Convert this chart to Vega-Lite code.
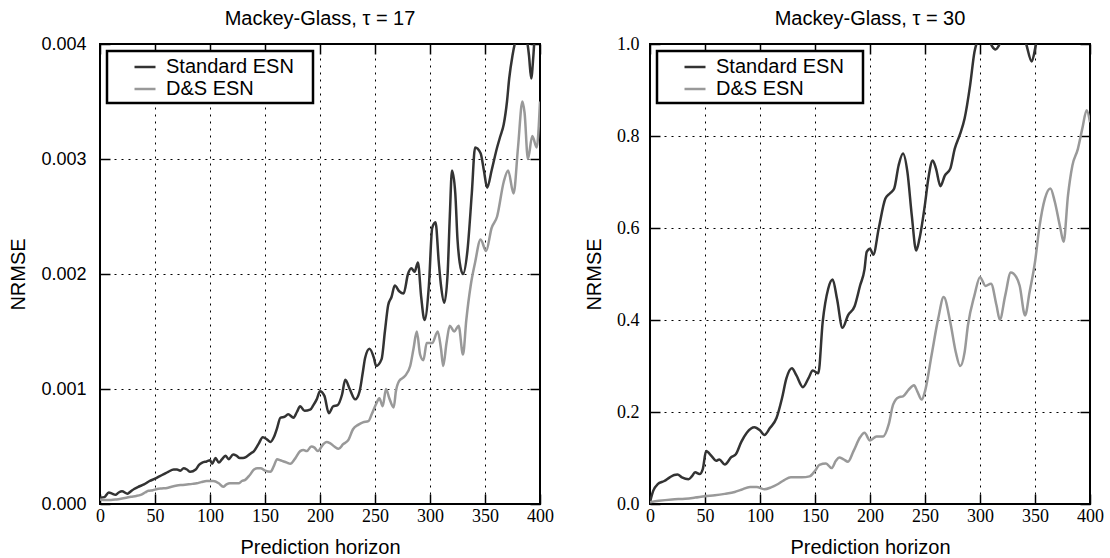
{
  "$schema": "https://vega.github.io/schema/vega-lite/v6.json",
  "background": "white",
  "padding": {"left": 7, "top": 8, "right": 0, "bottom": 0},
  "datasets": {
    "tau17": [
      {"s": "Standard ESN", "x": 0, "y": 0.000055},
      {"s": "Standard ESN", "x": 4, "y": 0.00006},
      {"s": "Standard ESN", "x": 8, "y": 0.0001},
      {"s": "Standard ESN", "x": 11, "y": 0.00009},
      {"s": "Standard ESN", "x": 14, "y": 0.00008},
      {"s": "Standard ESN", "x": 17, "y": 0.0001},
      {"s": "Standard ESN", "x": 20, "y": 0.00011},
      {"s": "Standard ESN", "x": 25, "y": 0.00009},
      {"s": "Standard ESN", "x": 28, "y": 0.00011},
      {"s": "Standard ESN", "x": 31, "y": 0.00013},
      {"s": "Standard ESN", "x": 35, "y": 0.00015},
      {"s": "Standard ESN", "x": 40, "y": 0.00017},
      {"s": "Standard ESN", "x": 45, "y": 0.0002},
      {"s": "Standard ESN", "x": 50, "y": 0.00022},
      {"s": "Standard ESN", "x": 54, "y": 0.00024},
      {"s": "Standard ESN", "x": 58, "y": 0.00026},
      {"s": "Standard ESN", "x": 62, "y": 0.00028},
      {"s": "Standard ESN", "x": 67, "y": 0.0003},
      {"s": "Standard ESN", "x": 70, "y": 0.0003},
      {"s": "Standard ESN", "x": 73, "y": 0.00029},
      {"s": "Standard ESN", "x": 76, "y": 0.00031},
      {"s": "Standard ESN", "x": 79, "y": 0.0003},
      {"s": "Standard ESN", "x": 82, "y": 0.00028},
      {"s": "Standard ESN", "x": 87, "y": 0.0003},
      {"s": "Standard ESN", "x": 90, "y": 0.00034},
      {"s": "Standard ESN", "x": 93, "y": 0.00036},
      {"s": "Standard ESN", "x": 97, "y": 0.00037},
      {"s": "Standard ESN", "x": 100, "y": 0.00038},
      {"s": "Standard ESN", "x": 102, "y": 0.00035},
      {"s": "Standard ESN", "x": 105, "y": 0.0004},
      {"s": "Standard ESN", "x": 108, "y": 0.00036},
      {"s": "Standard ESN", "x": 111, "y": 0.00039},
      {"s": "Standard ESN", "x": 114, "y": 0.00042},
      {"s": "Standard ESN", "x": 117, "y": 0.00039},
      {"s": "Standard ESN", "x": 121, "y": 0.00043},
      {"s": "Standard ESN", "x": 124, "y": 0.00042},
      {"s": "Standard ESN", "x": 127, "y": 0.0004},
      {"s": "Standard ESN", "x": 130, "y": 0.0004},
      {"s": "Standard ESN", "x": 133, "y": 0.00041},
      {"s": "Standard ESN", "x": 137, "y": 0.00044},
      {"s": "Standard ESN", "x": 140, "y": 0.00046},
      {"s": "Standard ESN", "x": 144, "y": 0.00052},
      {"s": "Standard ESN", "x": 148, "y": 0.00058},
      {"s": "Standard ESN", "x": 152, "y": 0.00056},
      {"s": "Standard ESN", "x": 155, "y": 0.00054},
      {"s": "Standard ESN", "x": 158, "y": 0.00058},
      {"s": "Standard ESN", "x": 161, "y": 0.00066},
      {"s": "Standard ESN", "x": 164, "y": 0.00075},
      {"s": "Standard ESN", "x": 168, "y": 0.00076},
      {"s": "Standard ESN", "x": 171, "y": 0.00078},
      {"s": "Standard ESN", "x": 176, "y": 0.00075},
      {"s": "Standard ESN", "x": 179, "y": 0.0008},
      {"s": "Standard ESN", "x": 182, "y": 0.00085},
      {"s": "Standard ESN", "x": 186, "y": 0.00081},
      {"s": "Standard ESN", "x": 191, "y": 0.00082},
      {"s": "Standard ESN", "x": 194, "y": 0.00086},
      {"s": "Standard ESN", "x": 197, "y": 0.00091},
      {"s": "Standard ESN", "x": 200, "y": 0.00098},
      {"s": "Standard ESN", "x": 204, "y": 0.00094},
      {"s": "Standard ESN", "x": 208, "y": 0.00079},
      {"s": "Standard ESN", "x": 212, "y": 0.00085},
      {"s": "Standard ESN", "x": 216, "y": 0.00086},
      {"s": "Standard ESN", "x": 220, "y": 0.00095},
      {"s": "Standard ESN", "x": 223, "y": 0.00108},
      {"s": "Standard ESN", "x": 227, "y": 0.001},
      {"s": "Standard ESN", "x": 232, "y": 0.00091},
      {"s": "Standard ESN", "x": 236, "y": 0.00098},
      {"s": "Standard ESN", "x": 239, "y": 0.00115},
      {"s": "Standard ESN", "x": 241, "y": 0.00127},
      {"s": "Standard ESN", "x": 245, "y": 0.00135},
      {"s": "Standard ESN", "x": 249, "y": 0.00127},
      {"s": "Standard ESN", "x": 251, "y": 0.0012},
      {"s": "Standard ESN", "x": 256, "y": 0.00126},
      {"s": "Standard ESN", "x": 259, "y": 0.0015},
      {"s": "Standard ESN", "x": 262, "y": 0.00173},
      {"s": "Standard ESN", "x": 265, "y": 0.0018},
      {"s": "Standard ESN", "x": 268, "y": 0.0019},
      {"s": "Standard ESN", "x": 272, "y": 0.00185},
      {"s": "Standard ESN", "x": 276, "y": 0.00183},
      {"s": "Standard ESN", "x": 280, "y": 0.002},
      {"s": "Standard ESN", "x": 283, "y": 0.00205},
      {"s": "Standard ESN", "x": 286, "y": 0.00202},
      {"s": "Standard ESN", "x": 289, "y": 0.0021},
      {"s": "Standard ESN", "x": 292, "y": 0.0018},
      {"s": "Standard ESN", "x": 295, "y": 0.0016},
      {"s": "Standard ESN", "x": 299, "y": 0.0019},
      {"s": "Standard ESN", "x": 302, "y": 0.0024},
      {"s": "Standard ESN", "x": 305, "y": 0.00245},
      {"s": "Standard ESN", "x": 308, "y": 0.0021},
      {"s": "Standard ESN", "x": 310, "y": 0.0019},
      {"s": "Standard ESN", "x": 313, "y": 0.00175},
      {"s": "Standard ESN", "x": 316, "y": 0.002},
      {"s": "Standard ESN", "x": 318, "y": 0.0025},
      {"s": "Standard ESN", "x": 320, "y": 0.0029},
      {"s": "Standard ESN", "x": 323, "y": 0.0027},
      {"s": "Standard ESN", "x": 325, "y": 0.0023},
      {"s": "Standard ESN", "x": 327, "y": 0.0021},
      {"s": "Standard ESN", "x": 330, "y": 0.002},
      {"s": "Standard ESN", "x": 334, "y": 0.0022},
      {"s": "Standard ESN", "x": 338, "y": 0.0027},
      {"s": "Standard ESN", "x": 341, "y": 0.0031},
      {"s": "Standard ESN", "x": 346, "y": 0.00305},
      {"s": "Standard ESN", "x": 349, "y": 0.0029},
      {"s": "Standard ESN", "x": 352, "y": 0.00275},
      {"s": "Standard ESN", "x": 356, "y": 0.0029},
      {"s": "Standard ESN", "x": 361, "y": 0.0031},
      {"s": "Standard ESN", "x": 364, "y": 0.0032},
      {"s": "Standard ESN", "x": 367, "y": 0.0033},
      {"s": "Standard ESN", "x": 370, "y": 0.0035},
      {"s": "Standard ESN", "x": 372, "y": 0.0037},
      {"s": "Standard ESN", "x": 375, "y": 0.0039},
      {"s": "Standard ESN", "x": 377, "y": 0.004},
      {"s": "Standard ESN", "x": 380, "y": 0.0041},
      {"s": "Standard ESN", "x": 384, "y": 0.0042},
      {"s": "Standard ESN", "x": 387, "y": 0.0041},
      {"s": "Standard ESN", "x": 390, "y": 0.0039},
      {"s": "Standard ESN", "x": 392, "y": 0.0037},
      {"s": "Standard ESN", "x": 394, "y": 0.0039},
      {"s": "Standard ESN", "x": 396, "y": 0.0042},
      {"s": "Standard ESN", "x": 400, "y": 0.0044},
      {"s": "D&S ESN", "x": 0, "y": 0.00004},
      {"s": "D&S ESN", "x": 5, "y": 0.000035},
      {"s": "D&S ESN", "x": 10, "y": 0.000035},
      {"s": "D&S ESN", "x": 15, "y": 0.00004},
      {"s": "D&S ESN", "x": 19, "y": 0.000046},
      {"s": "D&S ESN", "x": 24, "y": 0.000055},
      {"s": "D&S ESN", "x": 28, "y": 0.000063},
      {"s": "D&S ESN", "x": 33, "y": 0.00007},
      {"s": "D&S ESN", "x": 37, "y": 0.00008},
      {"s": "D&S ESN", "x": 41, "y": 0.0001},
      {"s": "D&S ESN", "x": 44, "y": 0.000115},
      {"s": "D&S ESN", "x": 48, "y": 0.00012},
      {"s": "D&S ESN", "x": 52, "y": 0.00013},
      {"s": "D&S ESN", "x": 56, "y": 0.000135},
      {"s": "D&S ESN", "x": 61, "y": 0.00014},
      {"s": "D&S ESN", "x": 65, "y": 0.00015},
      {"s": "D&S ESN", "x": 70, "y": 0.00016},
      {"s": "D&S ESN", "x": 74, "y": 0.000165},
      {"s": "D&S ESN", "x": 79, "y": 0.00017},
      {"s": "D&S ESN", "x": 84, "y": 0.000175},
      {"s": "D&S ESN", "x": 88, "y": 0.00018},
      {"s": "D&S ESN", "x": 92, "y": 0.00019},
      {"s": "D&S ESN", "x": 97, "y": 0.0002},
      {"s": "D&S ESN", "x": 103, "y": 0.0002},
      {"s": "D&S ESN", "x": 108, "y": 0.00018},
      {"s": "D&S ESN", "x": 112, "y": 0.00015},
      {"s": "D&S ESN", "x": 115, "y": 0.00017},
      {"s": "D&S ESN", "x": 118, "y": 0.00018},
      {"s": "D&S ESN", "x": 122, "y": 0.00018},
      {"s": "D&S ESN", "x": 126, "y": 0.00018},
      {"s": "D&S ESN", "x": 129, "y": 0.0002},
      {"s": "D&S ESN", "x": 132, "y": 0.00021},
      {"s": "D&S ESN", "x": 136, "y": 0.00025},
      {"s": "D&S ESN", "x": 140, "y": 0.0003},
      {"s": "D&S ESN", "x": 143, "y": 0.00031},
      {"s": "D&S ESN", "x": 146, "y": 0.00031},
      {"s": "D&S ESN", "x": 150, "y": 0.00029},
      {"s": "D&S ESN", "x": 155, "y": 0.00028},
      {"s": "D&S ESN", "x": 158, "y": 0.00033},
      {"s": "D&S ESN", "x": 161, "y": 0.00039},
      {"s": "D&S ESN", "x": 164, "y": 0.00038},
      {"s": "D&S ESN", "x": 167, "y": 0.00037},
      {"s": "D&S ESN", "x": 170, "y": 0.00036},
      {"s": "D&S ESN", "x": 173, "y": 0.00035},
      {"s": "D&S ESN", "x": 177, "y": 0.00039},
      {"s": "D&S ESN", "x": 182, "y": 0.00046},
      {"s": "D&S ESN", "x": 185, "y": 0.00047},
      {"s": "D&S ESN", "x": 188, "y": 0.00046},
      {"s": "D&S ESN", "x": 192, "y": 0.0005},
      {"s": "D&S ESN", "x": 195, "y": 0.00049},
      {"s": "D&S ESN", "x": 198, "y": 0.00046},
      {"s": "D&S ESN", "x": 203, "y": 0.00052},
      {"s": "D&S ESN", "x": 206, "y": 0.00054},
      {"s": "D&S ESN", "x": 209, "y": 0.00053},
      {"s": "D&S ESN", "x": 213, "y": 0.0005},
      {"s": "D&S ESN", "x": 217, "y": 0.00048},
      {"s": "D&S ESN", "x": 221, "y": 0.00052},
      {"s": "D&S ESN", "x": 226, "y": 0.00056},
      {"s": "D&S ESN", "x": 230, "y": 0.00065},
      {"s": "D&S ESN", "x": 235, "y": 0.00069},
      {"s": "D&S ESN", "x": 239, "y": 0.00071},
      {"s": "D&S ESN", "x": 244, "y": 0.00072},
      {"s": "D&S ESN", "x": 247, "y": 0.00078},
      {"s": "D&S ESN", "x": 251, "y": 0.00087},
      {"s": "D&S ESN", "x": 254, "y": 0.00092},
      {"s": "D&S ESN", "x": 257, "y": 0.00085},
      {"s": "D&S ESN", "x": 260, "y": 0.001},
      {"s": "D&S ESN", "x": 263, "y": 0.00092},
      {"s": "D&S ESN", "x": 267, "y": 0.00084},
      {"s": "D&S ESN", "x": 269, "y": 0.00098},
      {"s": "D&S ESN", "x": 272, "y": 0.00107},
      {"s": "D&S ESN", "x": 277, "y": 0.00111},
      {"s": "D&S ESN", "x": 282, "y": 0.0012},
      {"s": "D&S ESN", "x": 285, "y": 0.00135},
      {"s": "D&S ESN", "x": 288, "y": 0.0015},
      {"s": "D&S ESN", "x": 291, "y": 0.0013},
      {"s": "D&S ESN", "x": 294, "y": 0.00125},
      {"s": "D&S ESN", "x": 297, "y": 0.0014},
      {"s": "D&S ESN", "x": 302, "y": 0.0014},
      {"s": "D&S ESN", "x": 307, "y": 0.0015},
      {"s": "D&S ESN", "x": 310, "y": 0.00135},
      {"s": "D&S ESN", "x": 312, "y": 0.0012},
      {"s": "D&S ESN", "x": 315, "y": 0.0014},
      {"s": "D&S ESN", "x": 318, "y": 0.00155},
      {"s": "D&S ESN", "x": 322, "y": 0.0015},
      {"s": "D&S ESN", "x": 326, "y": 0.00155},
      {"s": "D&S ESN", "x": 330, "y": 0.0013},
      {"s": "D&S ESN", "x": 333, "y": 0.0016},
      {"s": "D&S ESN", "x": 337, "y": 0.0019},
      {"s": "D&S ESN", "x": 341, "y": 0.0021},
      {"s": "D&S ESN", "x": 346, "y": 0.0023},
      {"s": "D&S ESN", "x": 351, "y": 0.0022},
      {"s": "D&S ESN", "x": 356, "y": 0.0024},
      {"s": "D&S ESN", "x": 361, "y": 0.0025},
      {"s": "D&S ESN", "x": 367, "y": 0.0028},
      {"s": "D&S ESN", "x": 371, "y": 0.0029},
      {"s": "D&S ESN", "x": 376, "y": 0.0027},
      {"s": "D&S ESN", "x": 380, "y": 0.0031},
      {"s": "D&S ESN", "x": 384, "y": 0.0035},
      {"s": "D&S ESN", "x": 386, "y": 0.0034},
      {"s": "D&S ESN", "x": 389, "y": 0.003},
      {"s": "D&S ESN", "x": 393, "y": 0.0032},
      {"s": "D&S ESN", "x": 397, "y": 0.0031},
      {"s": "D&S ESN", "x": 400, "y": 0.0035}
    ],
    "tau30": [
      {"s": "Standard ESN", "x": 0, "y": 0.004},
      {"s": "Standard ESN", "x": 3, "y": 0.029},
      {"s": "Standard ESN", "x": 7, "y": 0.043},
      {"s": "Standard ESN", "x": 13, "y": 0.05},
      {"s": "Standard ESN", "x": 18, "y": 0.058},
      {"s": "Standard ESN", "x": 22, "y": 0.063},
      {"s": "Standard ESN", "x": 25, "y": 0.064},
      {"s": "Standard ESN", "x": 29, "y": 0.058},
      {"s": "Standard ESN", "x": 35, "y": 0.054},
      {"s": "Standard ESN", "x": 38, "y": 0.06},
      {"s": "Standard ESN", "x": 41, "y": 0.069},
      {"s": "Standard ESN", "x": 45, "y": 0.065},
      {"s": "Standard ESN", "x": 48, "y": 0.076},
      {"s": "Standard ESN", "x": 51, "y": 0.115},
      {"s": "Standard ESN", "x": 56, "y": 0.104},
      {"s": "Standard ESN", "x": 60, "y": 0.094},
      {"s": "Standard ESN", "x": 63, "y": 0.097},
      {"s": "Standard ESN", "x": 68, "y": 0.086},
      {"s": "Standard ESN", "x": 74, "y": 0.102},
      {"s": "Standard ESN", "x": 78, "y": 0.108},
      {"s": "Standard ESN", "x": 83, "y": 0.135},
      {"s": "Standard ESN", "x": 88, "y": 0.155},
      {"s": "Standard ESN", "x": 95, "y": 0.167},
      {"s": "Standard ESN", "x": 100, "y": 0.16},
      {"s": "Standard ESN", "x": 104, "y": 0.15},
      {"s": "Standard ESN", "x": 109, "y": 0.165},
      {"s": "Standard ESN", "x": 115, "y": 0.187},
      {"s": "Standard ESN", "x": 120, "y": 0.23},
      {"s": "Standard ESN", "x": 124, "y": 0.273},
      {"s": "Standard ESN", "x": 129, "y": 0.295},
      {"s": "Standard ESN", "x": 133, "y": 0.28},
      {"s": "Standard ESN", "x": 139, "y": 0.254},
      {"s": "Standard ESN", "x": 144, "y": 0.273},
      {"s": "Standard ESN", "x": 148, "y": 0.29},
      {"s": "Standard ESN", "x": 153, "y": 0.284},
      {"s": "Standard ESN", "x": 157, "y": 0.396},
      {"s": "Standard ESN", "x": 162, "y": 0.468},
      {"s": "Standard ESN", "x": 166, "y": 0.488},
      {"s": "Standard ESN", "x": 170, "y": 0.446},
      {"s": "Standard ESN", "x": 175, "y": 0.383},
      {"s": "Standard ESN", "x": 180, "y": 0.41},
      {"s": "Standard ESN", "x": 186, "y": 0.43},
      {"s": "Standard ESN", "x": 191, "y": 0.475},
      {"s": "Standard ESN", "x": 195, "y": 0.51},
      {"s": "Standard ESN", "x": 197, "y": 0.548},
      {"s": "Standard ESN", "x": 200, "y": 0.555},
      {"s": "Standard ESN", "x": 203, "y": 0.542},
      {"s": "Standard ESN", "x": 208, "y": 0.6},
      {"s": "Standard ESN", "x": 214, "y": 0.664},
      {"s": "Standard ESN", "x": 218, "y": 0.675},
      {"s": "Standard ESN", "x": 222, "y": 0.686},
      {"s": "Standard ESN", "x": 226, "y": 0.736},
      {"s": "Standard ESN", "x": 230, "y": 0.762},
      {"s": "Standard ESN", "x": 234, "y": 0.722},
      {"s": "Standard ESN", "x": 238, "y": 0.627},
      {"s": "Standard ESN", "x": 242, "y": 0.551},
      {"s": "Standard ESN", "x": 245, "y": 0.577},
      {"s": "Standard ESN", "x": 250, "y": 0.652},
      {"s": "Standard ESN", "x": 253, "y": 0.707},
      {"s": "Standard ESN", "x": 257, "y": 0.747},
      {"s": "Standard ESN", "x": 260, "y": 0.729},
      {"s": "Standard ESN", "x": 264, "y": 0.691},
      {"s": "Standard ESN", "x": 268, "y": 0.714},
      {"s": "Standard ESN", "x": 273, "y": 0.729},
      {"s": "Standard ESN", "x": 277, "y": 0.772},
      {"s": "Standard ESN", "x": 282, "y": 0.805},
      {"s": "Standard ESN", "x": 286, "y": 0.838},
      {"s": "Standard ESN", "x": 291, "y": 0.91},
      {"s": "Standard ESN", "x": 295, "y": 0.983},
      {"s": "Standard ESN", "x": 298, "y": 1.01},
      {"s": "Standard ESN", "x": 303, "y": 1.04},
      {"s": "Standard ESN", "x": 308, "y": 1.01},
      {"s": "Standard ESN", "x": 311, "y": 0.995},
      {"s": "Standard ESN", "x": 314, "y": 0.988},
      {"s": "Standard ESN", "x": 318, "y": 1.0},
      {"s": "Standard ESN", "x": 325, "y": 1.05},
      {"s": "Standard ESN", "x": 335, "y": 1.05},
      {"s": "Standard ESN", "x": 342, "y": 1.0},
      {"s": "Standard ESN", "x": 347, "y": 0.962},
      {"s": "Standard ESN", "x": 351, "y": 1.0},
      {"s": "Standard ESN", "x": 360, "y": 1.08},
      {"s": "Standard ESN", "x": 380, "y": 1.15},
      {"s": "Standard ESN", "x": 400, "y": 1.2},
      {"s": "D&S ESN", "x": 0, "y": 0.004},
      {"s": "D&S ESN", "x": 8, "y": 0.007},
      {"s": "D&S ESN", "x": 20, "y": 0.01},
      {"s": "D&S ESN", "x": 32, "y": 0.0115},
      {"s": "D&S ESN", "x": 41, "y": 0.014},
      {"s": "D&S ESN", "x": 50, "y": 0.017},
      {"s": "D&S ESN", "x": 59, "y": 0.019},
      {"s": "D&S ESN", "x": 68, "y": 0.022},
      {"s": "D&S ESN", "x": 77, "y": 0.026},
      {"s": "D&S ESN", "x": 83, "y": 0.031},
      {"s": "D&S ESN", "x": 91, "y": 0.037},
      {"s": "D&S ESN", "x": 97, "y": 0.037},
      {"s": "D&S ESN", "x": 104, "y": 0.032},
      {"s": "D&S ESN", "x": 110, "y": 0.036},
      {"s": "D&S ESN", "x": 116, "y": 0.043},
      {"s": "D&S ESN", "x": 122, "y": 0.052},
      {"s": "D&S ESN", "x": 128, "y": 0.058},
      {"s": "D&S ESN", "x": 138, "y": 0.058},
      {"s": "D&S ESN", "x": 145, "y": 0.06},
      {"s": "D&S ESN", "x": 150, "y": 0.072},
      {"s": "D&S ESN", "x": 154, "y": 0.085},
      {"s": "D&S ESN", "x": 160, "y": 0.088},
      {"s": "D&S ESN", "x": 165, "y": 0.078},
      {"s": "D&S ESN", "x": 169, "y": 0.094},
      {"s": "D&S ESN", "x": 172, "y": 0.101},
      {"s": "D&S ESN", "x": 176, "y": 0.097},
      {"s": "D&S ESN", "x": 180, "y": 0.092},
      {"s": "D&S ESN", "x": 185, "y": 0.115},
      {"s": "D&S ESN", "x": 191, "y": 0.145},
      {"s": "D&S ESN", "x": 195, "y": 0.155},
      {"s": "D&S ESN", "x": 200, "y": 0.138},
      {"s": "D&S ESN", "x": 206, "y": 0.147},
      {"s": "D&S ESN", "x": 212, "y": 0.147},
      {"s": "D&S ESN", "x": 217, "y": 0.173},
      {"s": "D&S ESN", "x": 221, "y": 0.216},
      {"s": "D&S ESN", "x": 226, "y": 0.232},
      {"s": "D&S ESN", "x": 230, "y": 0.234},
      {"s": "D&S ESN", "x": 235, "y": 0.248},
      {"s": "D&S ESN", "x": 240, "y": 0.258},
      {"s": "D&S ESN", "x": 243, "y": 0.245},
      {"s": "D&S ESN", "x": 247, "y": 0.227},
      {"s": "D&S ESN", "x": 250, "y": 0.245},
      {"s": "D&S ESN", "x": 256, "y": 0.324},
      {"s": "D&S ESN", "x": 262, "y": 0.403},
      {"s": "D&S ESN", "x": 267, "y": 0.45},
      {"s": "D&S ESN", "x": 273, "y": 0.395},
      {"s": "D&S ESN", "x": 278, "y": 0.33},
      {"s": "D&S ESN", "x": 282, "y": 0.3},
      {"s": "D&S ESN", "x": 286, "y": 0.33},
      {"s": "D&S ESN", "x": 289, "y": 0.388},
      {"s": "D&S ESN", "x": 295, "y": 0.454},
      {"s": "D&S ESN", "x": 300, "y": 0.493},
      {"s": "D&S ESN", "x": 305, "y": 0.474},
      {"s": "D&S ESN", "x": 310, "y": 0.479},
      {"s": "D&S ESN", "x": 315, "y": 0.432},
      {"s": "D&S ESN", "x": 318, "y": 0.401},
      {"s": "D&S ESN", "x": 323, "y": 0.454},
      {"s": "D&S ESN", "x": 328, "y": 0.503},
      {"s": "D&S ESN", "x": 333, "y": 0.493},
      {"s": "D&S ESN", "x": 336, "y": 0.475},
      {"s": "D&S ESN", "x": 341, "y": 0.41},
      {"s": "D&S ESN", "x": 345, "y": 0.46},
      {"s": "D&S ESN", "x": 350, "y": 0.526},
      {"s": "D&S ESN", "x": 354, "y": 0.602},
      {"s": "D&S ESN", "x": 359, "y": 0.664},
      {"s": "D&S ESN", "x": 364, "y": 0.686},
      {"s": "D&S ESN", "x": 368, "y": 0.657},
      {"s": "D&S ESN", "x": 373, "y": 0.6},
      {"s": "D&S ESN", "x": 376, "y": 0.57},
      {"s": "D&S ESN", "x": 380, "y": 0.671},
      {"s": "D&S ESN", "x": 384, "y": 0.736},
      {"s": "D&S ESN", "x": 389, "y": 0.772},
      {"s": "D&S ESN", "x": 393, "y": 0.816},
      {"s": "D&S ESN", "x": 397, "y": 0.856},
      {"s": "D&S ESN", "x": 400, "y": 0.83}
    ]
  },
  "spacing": 28,
  "resolve": {"scale": {"color": "independent"}, "legend": {"color": "independent"}},
  "hconcat": [
    {
      "width": 440,
      "height": 460,
      "title": "Mackey-Glass, τ = 17",
      "data": {"name": "tau17"},
      "resolve": {"axis": {"x": "independent", "y": "independent"}},
      "layer": [
        {
          "mark": {"type": "line", "clip": true, "strokeWidth": 2.5, "interpolate": "monotone"},
          "encoding": {
            "x": {"field": "x", "type": "quantitative", "scale": {"domain": [0, 400], "nice": false, "zero": false},
              "axis": {"orient": "bottom", "title": "Prediction horizon", "values": [0, 50, 100, 150, 200, 250, 300, 350, 400], "format": "d", "grid": true, "labelFont": "Liberation Serif", "labelPadding": 13, "titlePadding": 12}},
            "y": {"field": "y", "type": "quantitative", "scale": {"domain": [0, 0.004], "nice": false, "zero": false},
              "axis": {"orient": "left", "title": "NRMSE", "values": [0, 0.001, 0.002, 0.003, 0.004], "format": ".3f", "grid": true, "labelFont": "Liberation Sans", "labelPadding": 24}},
            "color": {"field": "s", "type": "nominal", "sort": ["Standard ESN", "D&S ESN"],
              "scale": {"domain": ["Standard ESN", "D&S ESN"], "range": ["#333333", "#999999"]},
              "legend": {"title": "\u00a0", "titleOrient": "right", "titlePadding": 15}}
          }
        },
        {
          "mark": {"type": "line", "opacity": 0, "clip": true},
          "encoding": {
            "x": {"field": "x", "type": "quantitative", "scale": {"domain": [0, 400], "nice": false, "zero": false},
              "axis": {"orient": "top", "title": null, "labels": false, "grid": false, "values": [0, 50, 100, 150, 200, 250, 300, 350, 400]}},
            "y": {"field": "y", "type": "quantitative", "scale": {"domain": [0, 0.004], "nice": false, "zero": false},
              "axis": {"orient": "right", "title": null, "labels": false, "grid": false, "values": [0, 0.001, 0.002, 0.003, 0.004]}},
            "detail": {"field": "s"}
          }
        }
      ]
    },
    {
      "width": 440,
      "height": 460,
      "title": "Mackey-Glass, τ = 30",
      "data": {"name": "tau30"},
      "resolve": {"axis": {"x": "independent", "y": "independent"}},
      "layer": [
        {
          "mark": {"type": "line", "clip": true, "strokeWidth": 2.5, "interpolate": "monotone"},
          "encoding": {
            "x": {"field": "x", "type": "quantitative", "scale": {"domain": [0, 400], "nice": false, "zero": false},
              "axis": {"orient": "bottom", "title": "Prediction horizon", "values": [0, 50, 100, 150, 200, 250, 300, 350, 400], "format": "d", "grid": true, "labelFont": "Liberation Serif", "labelPadding": 13, "titlePadding": 12}},
            "y": {"field": "y", "type": "quantitative", "scale": {"domain": [0, 1], "nice": false, "zero": false},
              "axis": {"orient": "left", "title": "NRMSE", "values": [0, 0.2, 0.4, 0.6, 0.8, 1.0], "format": ".1f", "grid": true, "labelFont": "Liberation Serif", "labelPadding": 21}},
            "color": {"field": "s", "type": "nominal", "sort": ["Standard ESN", "D&S ESN"],
              "scale": {"domain": ["Standard ESN", "D&S ESN"], "range": ["#333333", "#999999"]},
              "legend": {"title": "\u00a0", "titleOrient": "right", "titlePadding": 15}}
          }
        },
        {
          "mark": {"type": "line", "opacity": 0, "clip": true},
          "encoding": {
            "x": {"field": "x", "type": "quantitative", "scale": {"domain": [0, 400], "nice": false, "zero": false},
              "axis": {"orient": "top", "title": null, "labels": false, "grid": false, "values": [0, 50, 100, 150, 200, 250, 300, 350, 400]}},
            "y": {"field": "y", "type": "quantitative", "scale": {"domain": [0, 1], "nice": false, "zero": false},
              "axis": {"orient": "right", "title": null, "labels": false, "grid": false, "values": [0, 0.2, 0.4, 0.6, 0.8, 1.0]}},
            "detail": {"field": "s"}
          }
        }
      ]
    }
  ],
  "config": {
    "font": "Liberation Sans",
    "view": {"stroke": "black", "strokeWidth": 2},
    "title": {"font": "Liberation Sans", "fontSize": 20, "fontWeight": "normal", "color": "black", "offset": 6, "anchor": "middle"},
    "axis": {
      "domain": false,
      "ticks": true,
      "tickColor": "black",
      "tickWidth": 1.5,
      "tickSize": -10,
      "labelFontSize": 18,
      "labelColor": "black",
      "labelFlush": false,
      "labelOverlap": false,
      "labelBound": false,
      "titleFont": "Liberation Sans",
      "titleFontSize": 20,
      "titleFontWeight": "normal",
      "titleColor": "black",
      "titlePadding": 12,
      "gridColor": "black",
      "gridOpacity": 1,
      "gridDash": [2, 5],
      "gridWidth": 1
    },
    "legend": {
      "orient": "top-left",
      "offset": 7,
      "padding": 4,
      "strokeColor": "black",
      "strokeWidth": 2.5,
      "fillColor": "white",
      "cornerRadius": 0,
      "labelFont": "Liberation Sans",
      "labelFontSize": 20,
      "labelColor": "black",
      "labelLimit": 400,
      "titleFontSize": 20,
      "titleFont": "Liberation Sans",
      "symbolType": "stroke",
      "symbolStrokeWidth": 2.5,
      "symbolSize": 441,
      "symbolOffset": 22,
      "labelOffset": 9,
      "rowPadding": 0
    }
  }
}
